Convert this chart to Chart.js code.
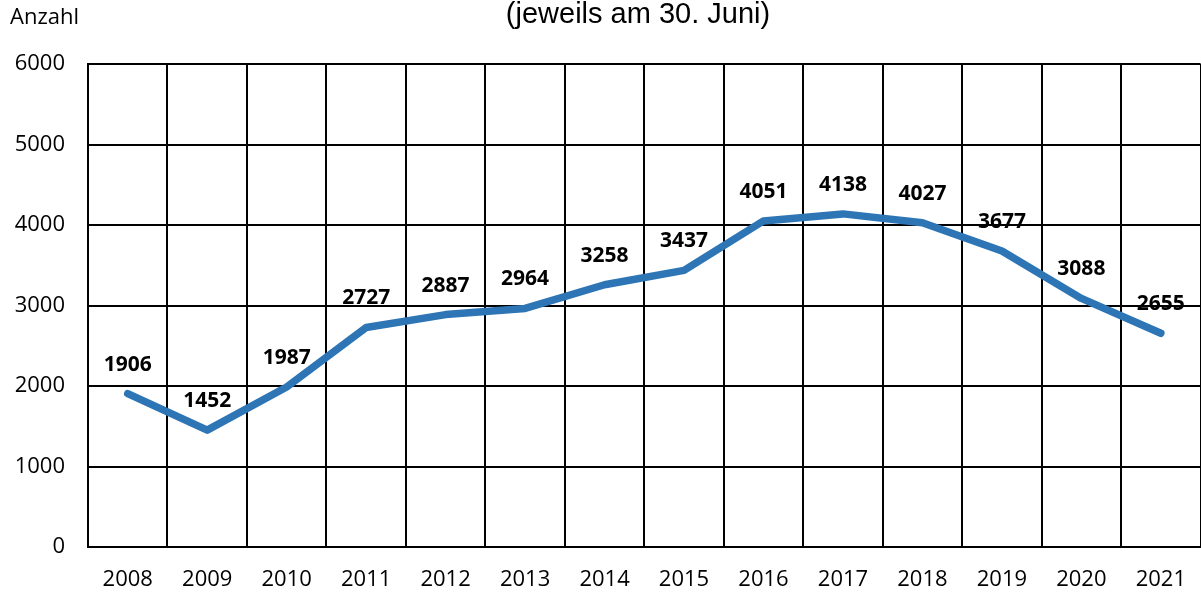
<!DOCTYPE html>
<html>
<head>
<meta charset="utf-8">
<script src="https://cdn.jsdelivr.net/npm/chart.js@4.4.0/dist/chart.umd.min.js"></script>
<style>
	html, body { margin: 0; padding: 0; background: #fff; overflow: hidden; }
	#wrap { width: 1201px; height: 595px; overflow: hidden; position: relative; }
	#box { width: 1206px; height: 595px; position: absolute; left: 0; top: 0; }
</style>
</head>
<body>
<div id="wrap"><div id="box"><canvas id="lineChart"></canvas></div></div>
<script>
const years = ['2008', '2009', '2010', '2011', '2012', '2013', '2014', '2015', '2016', '2017', '2018', '2019', '2020', '2021'];
const counts = [1906, 1452, 1987, 2727, 2887, 2964, 3258, 3437, 4051, 4138, 4027, 3677, 3088, 2655];
const yTicks = [0, 1000, 2000, 3000, 4000, 5000, 6000];
const titleText = '(jeweils am 30. Juni)';
const unitText = 'Anzahl';

const textPlugin = {
	id: 'textPlugin',
	afterDatasetsDraw(chart) {
		const ctx = chart.ctx;
		const meta = chart.getDatasetMeta(0);
		ctx.save();
		ctx.fillStyle = '#000';
		ctx.font = 'bold 21px "Open Sans"';
		ctx.textAlign = 'center';
		ctx.textBaseline = 'middle';
		meta.data.forEach(function (pt, i) {
			ctx.fillText(String(counts[i]), pt.x, pt.y - 29);
		});
		ctx.font = '29px "Liberation Sans"';
		ctx.textBaseline = 'alphabetic';
		ctx.fillText(titleText, 638, 23);
		ctx.font = '22px "Open Sans"';
		ctx.textAlign = 'left';
		ctx.textBaseline = 'middle';
		ctx.fillText(unitText, 10, 18);
		ctx.restore();
	}
};

const ctx = document.getElementById('lineChart').getContext('2d');
const chart = new Chart(ctx, {
	type: 'line',
	data: {
		labels: years,
		datasets: [
			{
				data: counts,
				borderColor: '#2E75B6',
				borderWidth: 7.5,
				borderCapStyle: 'round',
				borderJoinStyle: 'round',
				pointRadius: 0,
				tension: 0,
				fill: false,
			},
		],
	},
	options: {
		responsive: true,
		maintainAspectRatio: false,
		animation: false,
		layout: {
			padding: { top: 64, right: 0, left: 0, bottom: 0 },
		},
		plugins: {
			legend: { display: false },
			tooltip: { enabled: false },
		},
		scales: {
			x: {
				offset: true,
				grid: {
					offset: true,
					color: '#000',
					lineWidth: 2,
					drawTicks: false,
				},
				border: { color: '#000', width: 2 },
				ticks: {
					color: '#000',
					font: { family: '"Open Sans"', size: 22 },
					padding: 20,
					maxRotation: 0,
				},
				afterFit: function (scale) {
					scale.height = 48;
				},
			},
			y: {
				min: 0,
				max: 6000,
				afterBuildTicks: function (scale) {
					scale.ticks = yTicks.map(function (v) { return { value: v }; });
				},
				grid: {
					color: '#000',
					lineWidth: 2,
					drawTicks: false,
				},
				border: { color: '#000', width: 2 },
				ticks: {
					color: '#000',
					font: { family: '"Open Sans"', size: 22 },
					padding: 23,
					callback: function (value) {
						return String(value);
					},
				},
				afterFit: function (scale) {
					scale.width = 88;
				},
			},
		},
	},
	plugins: [textPlugin],
});
</script>
</body>
</html>
